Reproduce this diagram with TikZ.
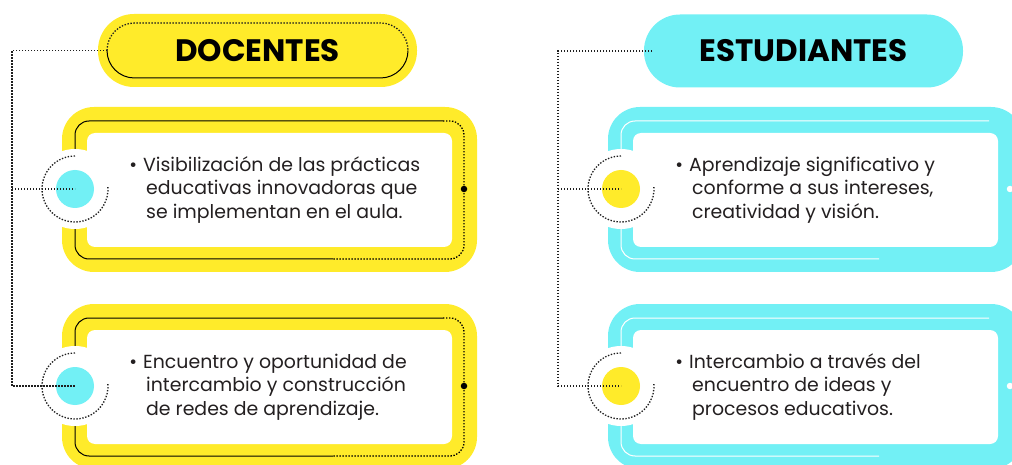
\documentclass[tikz,border=0pt]{standalone}
\usepackage{fontspec}
\setmainfont{Poppins}
\definecolor{ylw}{RGB}{255,235,42}
\definecolor{cyn}{RGB}{114,240,245}
\definecolor{txt}{RGB}{35,31,32}
\definecolor{dotc}{RGB}{30,30,30}
\tikzset{
  dotline/.style={draw=dotc,line width=1.3pt,dash pattern=on 1.4pt off 1.6pt},
  edgedots/.style={draw=black,line width=1.3pt,dash pattern=on 1.4pt off 1.6pt},
  nodots/.style={draw=none},
  pill/.style={rectangle,rounded corners=36pt,minimum width=319pt,minimum height=73pt,inner sep=0pt,font=\fontsize{31}{34}\selectfont\bfseries,text=black},
  card/.style={rectangle,rounded corners=32pt,minimum width=415pt,minimum height=165pt,inner sep=0pt},
  inner/.style={rectangle,rounded corners=8pt,fill=white,minimum width=365pt,minimum height=114pt,inner sep=0pt},
  hole/.style={circle,fill=white,minimum size=80pt,inner sep=0pt},
  disc/.style={circle,minimum size=38pt,inner sep=0pt},
  bodytext/.style={anchor=west,align=left,inner sep=0pt,text=txt,font=\fontsize{18.9}{23.5}\selectfont},
  knob/.style={circle,minimum size=6.5pt,inner sep=0pt},
}
\newcommand{\indl}{\hspace*{3pt}}
\begin{document}
\begin{tikzpicture}[x=1pt,y=1pt]
\useasboundingbox (0,0) rectangle (1012,464);
\clip (0,0) rectangle (1012,464);
% ---------- DOCENTES ----------
\node[pill,fill=ylw] (doc) at (257.5,413.5) {DOCENTES};
\draw[dotline] (107,413.5) arc[start angle=180,end angle=90,radius=27.5] -- (380.5,441) arc[start angle=90,end angle=0,radius=27.5];
\draw[black,line width=1pt] (107,413.5) arc[start angle=180,end angle=270,radius=27.5] -- (380.5,386) arc[start angle=270,end angle=360,radius=27.5];
\coordinate (docL) at (107,413.5);
% ---------- ESTUDIANTES ----------
\node[pill,fill=cyn] (est) at (803.5,413) {ESTUDIANTES};
\coordinate (estL) at (652,413);
% ---------- cards ----------
\foreach \dx/\dy/\fillc/\linec/\dsty/\discc/\nm in {0/0/ylw/black/edgedots/cyn/a, 0/-197/ylw/black/edgedots/cyn/b, 546/0/cyn/white/nodots/ylw/c, 546/-197/cyn/white/nodots/ylw/d}{
  \begin{scope}[shift={(\dx,\dy)}]
    \node[card,fill=\fillc] (card\nm) at (269.5,274.5) {};
    \draw[\linec,line width=1pt,rounded corners=14pt] (333,205) -| (75,343) -- (443,343);
    \path[\dsty,rounded corners=14pt] (443,343) -| (464,205) -- (333,205);
    \node[inner] (in\nm) at (269.5,274) {};
    \node[knob,fill=\linec] (knob\nm) at (464,275) {};
    \node[hole] (hole\nm) at (75,275) {};
    \draw[dotline] (75,275) ++(90:33) arc[start angle=90,end angle=365,radius=33];
    \node[disc,fill=\discc] (disc\nm) at (75,275) {};
  \end{scope}
}
% ---------- texts ----------
\node[bodytext] (ta) at (143,274) {\llap{•\hspace{6pt}}Visibilización de las prácticas\\\indl educativas innovadoras que\\\indl se implementan en el aula.};
\node[bodytext] (tb) at (143,77) {\llap{•\hspace{6pt}}Encuentro y oportunidad de\\\indl intercambio y construcción\\\indl de redes de aprendizaje.};
\node[bodytext] (tc) at (689,274) {\llap{•\hspace{6pt}}Aprendizaje significativo y\\\indl conforme a sus intereses,\\\indl creatividad y visión.};
\node[bodytext] (td) at (689,77) {\llap{•\hspace{6pt}}Intercambio a través del\\\indl encuentro de ideas y\\\indl procesos educativos.};
% ---------- connectors ----------
\coordinate (jL) at (12,413.5);
\coordinate (jLa) at (12,275);
\coordinate (jR) at (558,413);
\coordinate (jRc) at (558,275);
\draw[dotline] (docL) -- (jL) |- (discb.center);
\draw[dotline] (jLa) -- (disca.center);
\draw[dotline] (estL) -- (jR) |- (discd.center);
\draw[dotline] (jRc) -- (discc.center);
\end{tikzpicture}
\end{document}
